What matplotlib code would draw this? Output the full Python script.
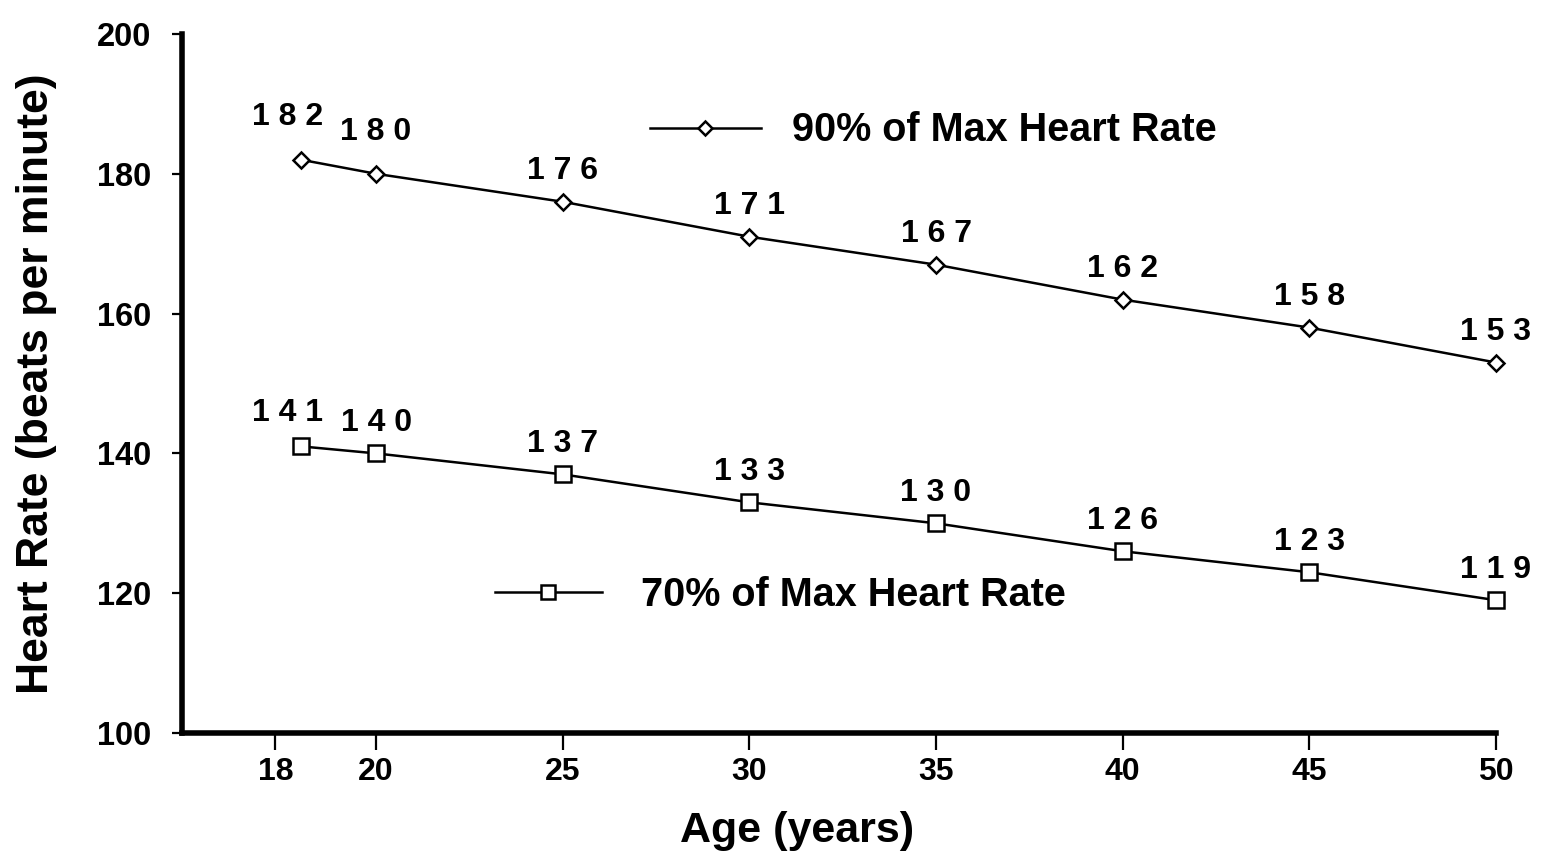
import matplotlib
matplotlib.use("Agg")
import matplotlib.pyplot as plt

ages = [18, 20, 25, 30, 35, 40, 45, 50]
hr90 = [182, 180, 176, 171, 167, 162, 158, 153]
hr70 = [141, 140, 137, 133, 130, 126, 123, 119]
xtick_pos = [17.3, 20, 25, 30, 35, 40, 45, 50]
xtick_labels = ["18", "20", "25", "30", "35", "40", "45", "50"]
yticks = [100, 120, 140, 160, 180, 200]
label90 = "90% of Max Heart Rate"
label70 = "70% of Max Heart Rate"

plt.rcParams['font.family'] = ['Liberation Sans', 'DejaVu Sans']
plt.rcParams['font.weight'] = 'bold'

fig = plt.figure(figsize=(15.48, 8.51), dpi=100)
ax = fig.add_axes([182/1548, 1-733/851, (1496-182)/1548, (733-34)/851])

l90, = ax.plot(ages, hr90, color='black', lw=1.8, marker='D', ms=8,
               mfc='white', mec='black', mew=1.8, clip_on=False)
l70, = ax.plot(ages, hr70, color='black', lw=1.8, marker='s', ms=12,
               mfc='white', mec='black', mew=1.8, clip_on=False)

def spaced(v):
    return " ".join(str(v))

for i, (a, v) in enumerate(zip(ages, hr90)):
    dx, dy = (-10, 31) if i == 0 else (0, 22)
    if i == 1:
        dy = 30
    ax.annotate(spaced(v), (a, v), xytext=(dx, dy), textcoords='offset points',
                ha='center', va='center', fontsize=23, fontweight='bold')
for i, (a, v) in enumerate(zip(ages, hr70)):
    dx, dy = (-10, 24) if i == 0 else (0, 22)
    ax.annotate(spaced(v), (a, v), xytext=(dx, dy), textcoords='offset points',
                ha='center', va='center', fontsize=23, fontweight='bold')

ax.set_xlim(14.8, 50)
ax.set_ylim(100, 200)
ax.set_xticks(xtick_pos)
ax.set_xticklabels(xtick_labels)
ax.set_yticks(yticks)
for s in ['top', 'right']:
    ax.spines[s].set_visible(False)
for s in ['left', 'bottom']:
    ax.spines[s].set_linewidth(4)
ax.spines['bottom'].set_bounds(14.8, 50)
ax.tick_params(axis='x', length=12, width=1.6, labelsize=23, pad=5)
ax.tick_params(axis='y', length=7, width=1.6, labelsize=23.5, pad=15)
for lab in ax.get_xticklabels() + ax.get_yticklabels():
    lab.set_fontweight('bold')

ax.set_xlabel("Age (years)", fontsize=31, fontweight='bold')
ax.xaxis.set_label_coords(0.468, -0.112)
ax.set_ylabel("Heart Rate (beats per minute)", fontsize=32, fontweight='bold')
ax.yaxis.set_label_coords(-0.095, 0.5)

leg1 = ax.legend([l90], [label90], loc='center left', bbox_to_anchor=(0.356, 0.862),
                 frameon=False, borderpad=0, borderaxespad=0, handlelength=2.8,
                 handletextpad=0.8, fontsize=28.5, markerscale=0.9)
ax.add_artist(leg1)
leg2 = ax.legend([l70], [label70], loc='center left', bbox_to_anchor=(0.238, 0.197),
                 frameon=False, borderpad=0, borderaxespad=0, handlelength=2.7,
                 handletextpad=1.0, fontsize=28.5, markerscale=0.8)
for leg in (leg1, leg2):
    for t in leg.get_texts():
        t.set_fontweight('bold')

fig.savefig("out.png", dpi=100)
